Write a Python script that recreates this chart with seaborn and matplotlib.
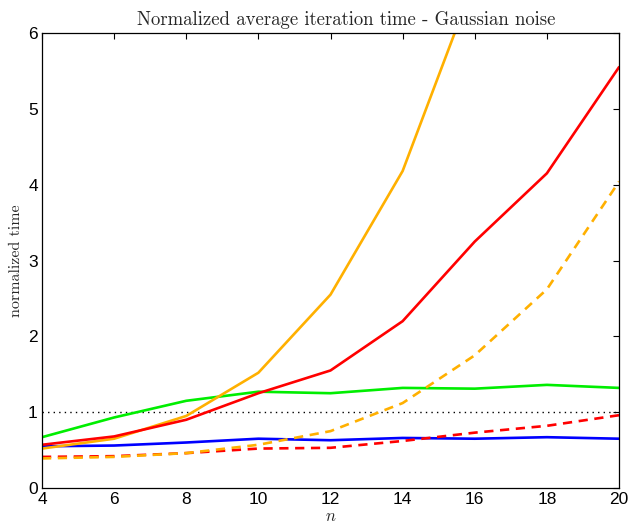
import numpy as np
import pandas as pd
import matplotlib
matplotlib.use("Agg")
import matplotlib.pyplot as plt
import seaborn as sns

n = [4, 6, 8, 10, 12, 14, 16, 18, 20]
orange_solid = [0.52, 0.65, 0.95, 1.52, 2.55, 4.18, 6.7, 10.0, 15.0]
red_solid = [0.57, 0.68, 0.90, 1.25, 1.55, 2.20, 3.25, 4.15, 5.55]
green_solid = [0.67, 0.93, 1.15, 1.27, 1.25, 1.32, 1.31, 1.36, 1.32]
blue_solid = [0.55, 0.56, 0.60, 0.65, 0.63, 0.66, 0.65, 0.67, 0.65]
red_dashed = [0.41, 0.42, 0.46, 0.52, 0.53, 0.62, 0.73, 0.82, 0.96]
orange_dashed = [0.39, 0.41, 0.46, 0.57, 0.75, 1.12, 1.75, 2.62, 4.04]
reference = [1.0] * len(n)

sns.set_style("white")
plt.rcParams['mathtext.fontset'] = 'cm'

fig = plt.figure(figsize=(6.42, 5.29), dpi=100)
ax = fig.add_axes([0.0654, 0.0775, 0.8988, 0.8601])

sns.lineplot(x=n, y=reference, ax=ax, color='black', linestyle=(0, (1, 3)), linewidth=1.0)
series = [
    (green_solid, '#00EE00', '-'),
    (blue_solid, '#0000FF', '-'),
    (red_dashed, '#FF0000', (0, (3.5, 2.5))),
    (orange_dashed, '#FFB000', (0, (3.5, 2.5))),
    (orange_solid, '#FFB000', '-'),
    (red_solid, '#FF0000', '-'),
]
for vals, col, ls in series:
    sns.lineplot(x=n, y=vals, ax=ax, color=col, linestyle=ls, linewidth=1.9)

ax.set_xlim(4, 20)
ax.set_ylim(0, 6)
ax.set_xticks(n)
ax.set_yticks([0, 1, 2, 3, 4, 5, 6])
ax.tick_params(direction='in', top=True, right=True, length=4, width=0.8,
               labelsize=12.5, colors='black', pad=3)
for lab in ax.get_xticklabels() + ax.get_yticklabels():
    lab.set_family(['Liberation Sans', 'DejaVu Sans'])
for s in ax.spines.values():
    s.set_color('black')
    s.set_linewidth(0.9)

ax.set_xlabel('$n$', fontsize=12, labelpad=0)
ax.set_ylabel('normalized time', fontsize=11.5, family='cmr10', labelpad=4)
ax.set_title('Normalized average iteration time - Gaussian noise', fontsize=13.5,
             family='cmr10', pad=6, x=0.527)

fig.savefig('out.png', dpi=100)
